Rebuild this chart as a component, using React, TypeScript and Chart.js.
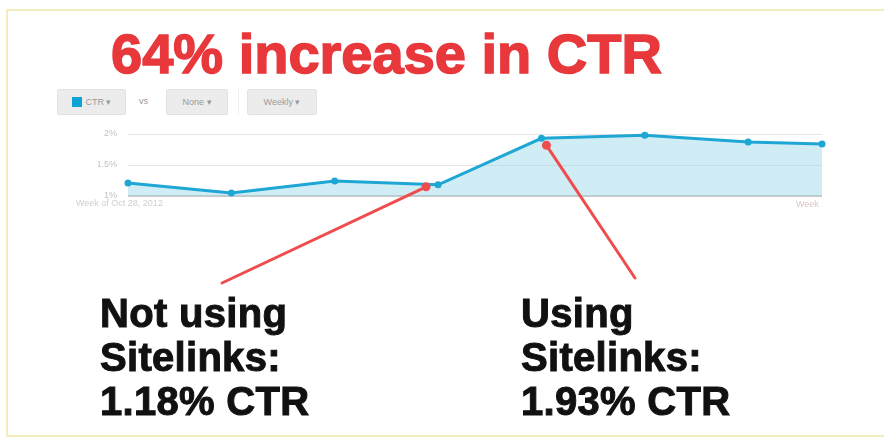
import React, { useEffect, useRef } from "react";
import { Chart, registerables } from "chart.js";

Chart.register(...registerables);

const weeks = [
  "Week of Oct 28, 2012",
  "Week of Nov 4, 2012",
  "Week of Nov 11, 2012",
  "Week of Nov 18, 2012",
  "Week of Nov 25, 2012",
  "Week of Dec 2, 2012",
  "Week of Dec 9, 2012",
  "Week",
];
const dayOffsets = [0, 7, 14, 21, 28, 35, 42, 47];
const ctrValues = [1.21, 1.05, 1.24, 1.18, 1.93, 1.98, 1.87, 1.84];
const yTicks = [1, 1.5, 2];
const edgeLabels = ["Week of Oct 28, 2012", "Week"];
const titleText = "64% increase in CTR";
const leftNote = ["Not using", "Sitelinks:", "1.18% CTR"];
const rightNote = ["Using", "Sitelinks:", "1.93% CTR"];

const arrows = [
  { index: 3, tail: [222, 283], offset: [-12, 2] },
  { index: 4, tail: [635, 278], offset: [5, 7] },
];

const arrowPlugin = {
  id: "arrows",
  afterDraw(chart: any) {
    const meta = chart.getDatasetMeta(0);
    const ctx = chart.ctx;
    ctx.save();
    ctx.strokeStyle = "#ef4d4d";
    ctx.fillStyle = "#ef4d4d";
    ctx.lineWidth = 3;
    ctx.lineCap = "round";
    arrows.forEach((a) => {
      const p = meta.data[a.index];
      const tx = p.x + a.offset[0];
      const ty = p.y + a.offset[1];
      ctx.beginPath();
      ctx.moveTo(a.tail[0], a.tail[1]);
      ctx.lineTo(tx, ty);
      ctx.stroke();
      ctx.beginPath();
      ctx.arc(tx, ty, 4.5, 0, Math.PI * 2);
      ctx.fill();
    });
    ctx.restore();
  },
};

const boldFont = "'Liberation Sans', Arial, sans-serif";

function Button({ left, width, children }: any) {
  return (
    <div
      style={{
        position: "absolute",
        left,
        top: 89,
        width,
        height: 26,
        boxSizing: "border-box",
        background: "#ececec",
        border: "1px solid #e2e2e2",
        borderRadius: 2,
        display: "flex",
        alignItems: "center",
        justifyContent: "center",
        fontFamily: "Arial, 'Liberation Sans', sans-serif",
        fontSize: 9,
        color: "#9a9a9a",
      }}
    >
      {children}
    </div>
  );
}

export default function App() {
  const canvasRef = useRef<HTMLCanvasElement>(null);

  useEffect(() => {
    const chart = new Chart(canvasRef.current!, {
      type: "line",
      data: {
        labels: weeks,
        datasets: [
          {
            label: "CTR",
            data: ctrValues.map((v, i) => ({ x: dayOffsets[i], y: v })),
            borderColor: "#1ea7d4",
            borderWidth: 3,
            pointRadius: 3.5,
            pointBackgroundColor: "#1ea7d4",
            pointBorderWidth: 0,
            fill: "start",
            backgroundColor: "rgba(150, 212, 230, 0.45)",
            tension: 0,
            clip: false as any,
          },
        ],
      },
      options: {
        animation: false,
        responsive: false,
        layout: { padding: { left: 98, right: 62, top: 134, bottom: 247 } },
        plugins: { legend: { display: false }, tooltip: { enabled: false } },
        scales: {
          x: { type: "linear", min: 0, max: 47, display: false },
          y: {
            min: 1,
            max: 2,
            afterFit: (s: any) => {
              s.width = 30;
            },
            afterBuildTicks: (s: any) => {
              s.ticks = yTicks.map((v) => ({ value: v }));
            },
            border: { display: false },
            grid: {
              drawTicks: false,
              color: (c: any) => (c.tick && c.tick.value === 1 ? "#c9c9c9" : "#e6e6e6"),
              lineWidth: (c: any) => (c.tick && c.tick.value === 1 ? 2 : 1),
            },
            ticks: {
              padding: 11,
              color: "#c2c2c2",
              font: { size: 9, family: "Arial, 'Liberation Sans', sans-serif" },
              callback: (v: any) => v + "%",
            },
          },
        },
      },
      plugins: [arrowPlugin],
    });
    return () => chart.destroy();
  }, []);

  const noteStyle = (left: number): React.CSSProperties => ({
    position: "absolute",
    left,
    top: 291,
    fontFamily: boldFont,
    fontWeight: 700,
    fontSize: 40,
    lineHeight: "44px",
    color: "#111",
    whiteSpace: "nowrap",
    WebkitTextStroke: "1px #111",
    letterSpacing: 0.3,
  });

  return (
    <div
      style={{
        position: "absolute",
        left: 0,
        top: 0,
        width: 884,
        height: 443,
        background: "#fff",
        overflow: "hidden",
      }}
    >
      <div
        style={{
          position: "absolute",
          left: 6,
          top: 9,
          width: 900,
          height: 428,
          border: "2px solid #f6edbf",
          boxSizing: "border-box",
        }}
      />
      <div
        style={{
          position: "absolute",
          left: 111,
          top: 26,
          fontFamily: boldFont,
          fontWeight: 700,
          fontSize: 56,
          lineHeight: "56px",
          color: "#e8383b",
          whiteSpace: "nowrap",
          WebkitTextStroke: "1.5px #e8383b",
        }}
      >
        {titleText}
      </div>

      <Button left={57} width={69}>
        <span
          style={{
            display: "inline-block",
            width: 10,
            height: 10,
            background: "#0aa3d4",
            marginRight: 4,
          }}
        />
        CTR ▾
      </Button>
      <div
        style={{
          position: "absolute",
          left: 139,
          top: 96,
          fontFamily: "Arial, sans-serif",
          fontSize: 9,
          color: "#999",
        }}
      >
        vs
      </div>
      <Button left={166} width={62}>
        None ▾
      </Button>
      <div
        style={{ position: "absolute", left: 238, top: 89, width: 1, height: 26, background: "#efefef" }}
      />
      <Button left={247} width={70}>
        Weekly ▾
      </Button>

      <canvas
        ref={canvasRef}
        width={884}
        height={443}
        style={{ position: "absolute", left: 0, top: 0, width: 884, height: 443 }}
      />

      <div
        style={{
          position: "absolute",
          left: 76,
          top: 198,
          fontFamily: "Arial, sans-serif",
          fontSize: 9,
          color: "#cfcfcf",
          whiteSpace: "nowrap",
        }}
      >
        {edgeLabels[0]}
      </div>
      <div
        style={{
          position: "absolute",
          left: 796,
          top: 199,
          fontFamily: "Arial, sans-serif",
          fontSize: 9,
          color: "#d8c8c0",
          whiteSpace: "nowrap",
        }}
      >
        {edgeLabels[1]}
      </div>

      <div style={noteStyle(100)}>
        {leftNote.map((l) => (
          <div key={l}>{l}</div>
        ))}
      </div>
      <div style={noteStyle(521)}>
        {rightNote.map((l) => (
          <div key={l}>{l}</div>
        ))}
      </div>
    </div>
  );
}
